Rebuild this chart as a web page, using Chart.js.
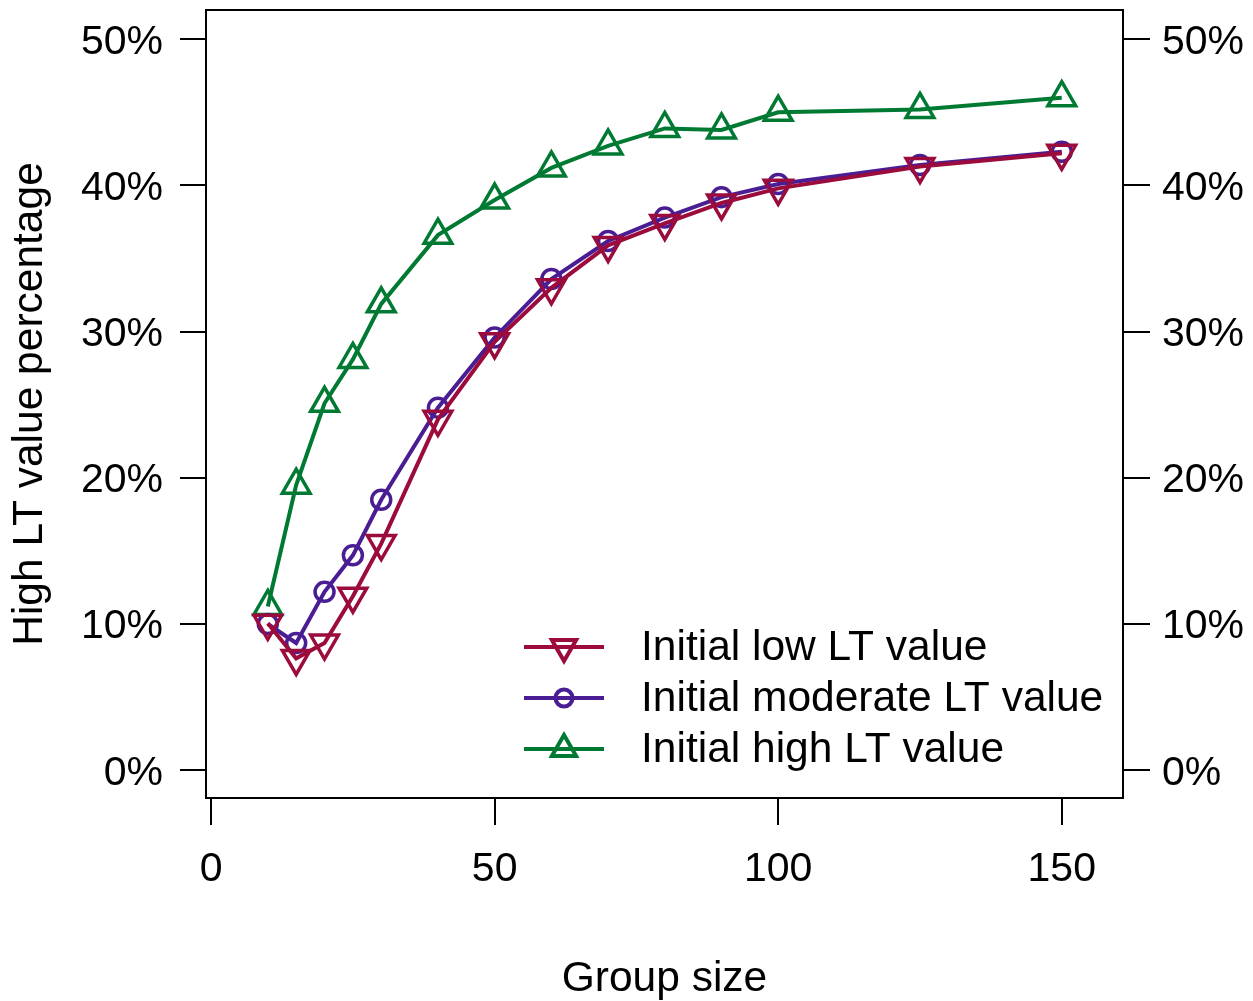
<!DOCTYPE html>
<html>
<head>
<meta charset="utf-8">
<script src="https://cdn.jsdelivr.net/npm/chart.js@4"></script>
<style>
  body { margin: 0; background: #fff; }
  #wrap { width: 1253px; height: 1001px; position: relative; }
</style>
</head>
<body>
<div id="wrap"><canvas id="grafico"></canvas></div>
<script>
// datos
const groupSizes = [10, 15, 20, 25, 30, 40, 50, 60, 70, 80, 90, 100, 125, 150];
const lowLT      = [10.05, 7.65, 8.7, 11.9, 15.5, 24.0, 29.3, 33.0, 35.9, 37.4, 38.8, 39.8, 41.3, 42.2];
const moderateLT = [10.0, 8.7, 12.2, 14.7, 18.5, 24.8, 29.6, 33.6, 36.2, 37.8, 39.2, 40.1, 41.4, 42.3];
const highLT     = [11.2, 19.5, 25.1, 28.1, 31.9, 36.6, 39.0, 41.2, 42.7, 43.9, 43.8, 45.0, 45.2, 46.0];
const xTicks = [0, 50, 100, 150];
const yTicks = [0, 10, 20, 30, 40, 50];
const seriesLabels = ['Initial low LT value', 'Initial moderate LT value', 'Initial high LT value'];

const FONT = 'Liberation Sans, Arial, sans-serif';
const colores = ['#9b0b3b', '#4a1d94', '#007a33'];

function toPts(ys) {
    return groupSizes.map((x, i) => ({ x: x, y: ys[i] }));
}

const estilos = [
    { pointStyle: 'triangle', rotation: 180, radius: 16 },
    { pointStyle: 'circle', rotation: 0, radius: 9.5 },
    { pointStyle: 'triangle', rotation: 0, radius: 16 }
];

const datasets = [lowLT, moderateLT, highLT].map((serie, i) => ({
    label: seriesLabels[i],
    data: toPts(serie),
    borderColor: colores[i],
    backgroundColor: 'rgba(0,0,0,0)',
    pointBackgroundColor: 'rgba(0,0,0,0)',
    pointBorderColor: colores[i],
    borderWidth: 4,
    pointBorderWidth: 3.5,
    pointStyle: estilos[i].pointStyle,
    pointRotation: estilos[i].rotation,
    pointRadius: estilos[i].radius,
    tension: 0
}));

// caja + leyenda al estilo R
const cajaYLeyenda = {
    id: 'cajaYLeyenda',
    afterDatasetsDraw(chart) {
        const { ctx, chartArea } = chart;
        ctx.save();
        ctx.strokeStyle = '#000';
        ctx.lineWidth = 2;
        ctx.strokeRect(chartArea.left, chartArea.top, chartArea.right - chartArea.left, chartArea.bottom - chartArea.top);

        const filas = [647, 698, 749];
        const legendR = [14, 8.5, 14];
        ctx.font = '42.5px ' + FONT;
        ctx.textBaseline = 'middle';
        ctx.textAlign = 'left';
        chart.data.datasets.forEach((ds, i) => {
            const y = filas[i];
            ctx.strokeStyle = ds.borderColor;
            ctx.lineWidth = 4;
            ctx.beginPath();
            ctx.moveTo(524, y);
            ctx.lineTo(604, y);
            ctx.stroke();
            ctx.fillStyle = 'rgba(0,0,0,0)';
            Chart.helpers.drawPoint(ctx, {
                pointStyle: ds.pointStyle,
                rotation: ds.pointRotation,
                radius: legendR[i],
                borderWidth: 3.5
            }, 564, y);
            ctx.fillStyle = '#000';
            ctx.fillText(ds.label, 641, y + 1);
        });
        ctx.restore();
    }
};

const tickFont = { family: FONT, size: 41 };
const sinPadding = ax => { ax.paddingTop = 0; ax.paddingBottom = 0; ax.paddingLeft = 0; ax.paddingRight = 0; };

new Chart(document.getElementById('grafico').getContext('2d'), {
    type: 'line',
    data: { datasets: datasets },
    options: {
        responsive: true,
        maintainAspectRatio: false,
        animation: false,
        layout: { autoPadding: false, padding: { top: 10, left: 0, right: 0, bottom: 0 } },
        plugins: { legend: { display: false }, tooltip: { enabled: false } },
        scales: {
            x: {
                type: 'linear',
                min: -0.9,
                max: 160.8,
                afterBuildTicks: ax => { ax.ticks = xTicks.map(v => ({ value: v })); },
                afterFit: ax => { ax.height = 203; sinPadding(ax); },
                ticks: { color: '#000', font: tickFont, padding: 20, maxRotation: 0 },
                grid: { drawOnChartArea: false, drawTicks: true, tickLength: 27, color: '#000', lineWidth: 2 },
                border: { display: true, color: '#000', width: 2 },
                title: {
                    display: true, text: 'Group size', color: '#000',
                    font: { family: FONT, size: 42.5, lineHeight: 1 },
                    padding: { top: 0, bottom: 0 }
                }
            },
            y: {
                position: 'left',
                min: -1.9,
                max: 52,
                afterBuildTicks: ax => { ax.ticks = yTicks.map(v => ({ value: v })); },
                afterFit: ax => { ax.width = 206; sinPadding(ax); },
                ticks: { color: '#000', font: tickFont, padding: 17, labelOffset: 3, callback: v => v + '%' },
                grid: { drawOnChartArea: false, drawTicks: true, tickLength: 26, color: '#000', lineWidth: 2 },
                border: { display: true, color: '#000', width: 2 },
                title: {
                    display: true, text: 'High LT value percentage', color: '#000',
                    font: { family: FONT, size: 42.5, lineHeight: 1 },
                    padding: { top: 9, bottom: 0 }
                }
            },
            y2: {
                position: 'right',
                min: -1.9,
                max: 52,
                afterBuildTicks: ax => { ax.ticks = yTicks.map(v => ({ value: v })); },
                afterFit: ax => { ax.width = 130; sinPadding(ax); },
                ticks: { color: '#000', font: tickFont, padding: 12, labelOffset: 3, callback: v => v + '%' },
                grid: { drawOnChartArea: false, drawTicks: true, tickLength: 27, color: '#000', lineWidth: 2 },
                border: { display: true, color: '#000', width: 2 }
            }
        }
    },
    plugins: [cajaYLeyenda]
});
</script>
</body>
</html>
